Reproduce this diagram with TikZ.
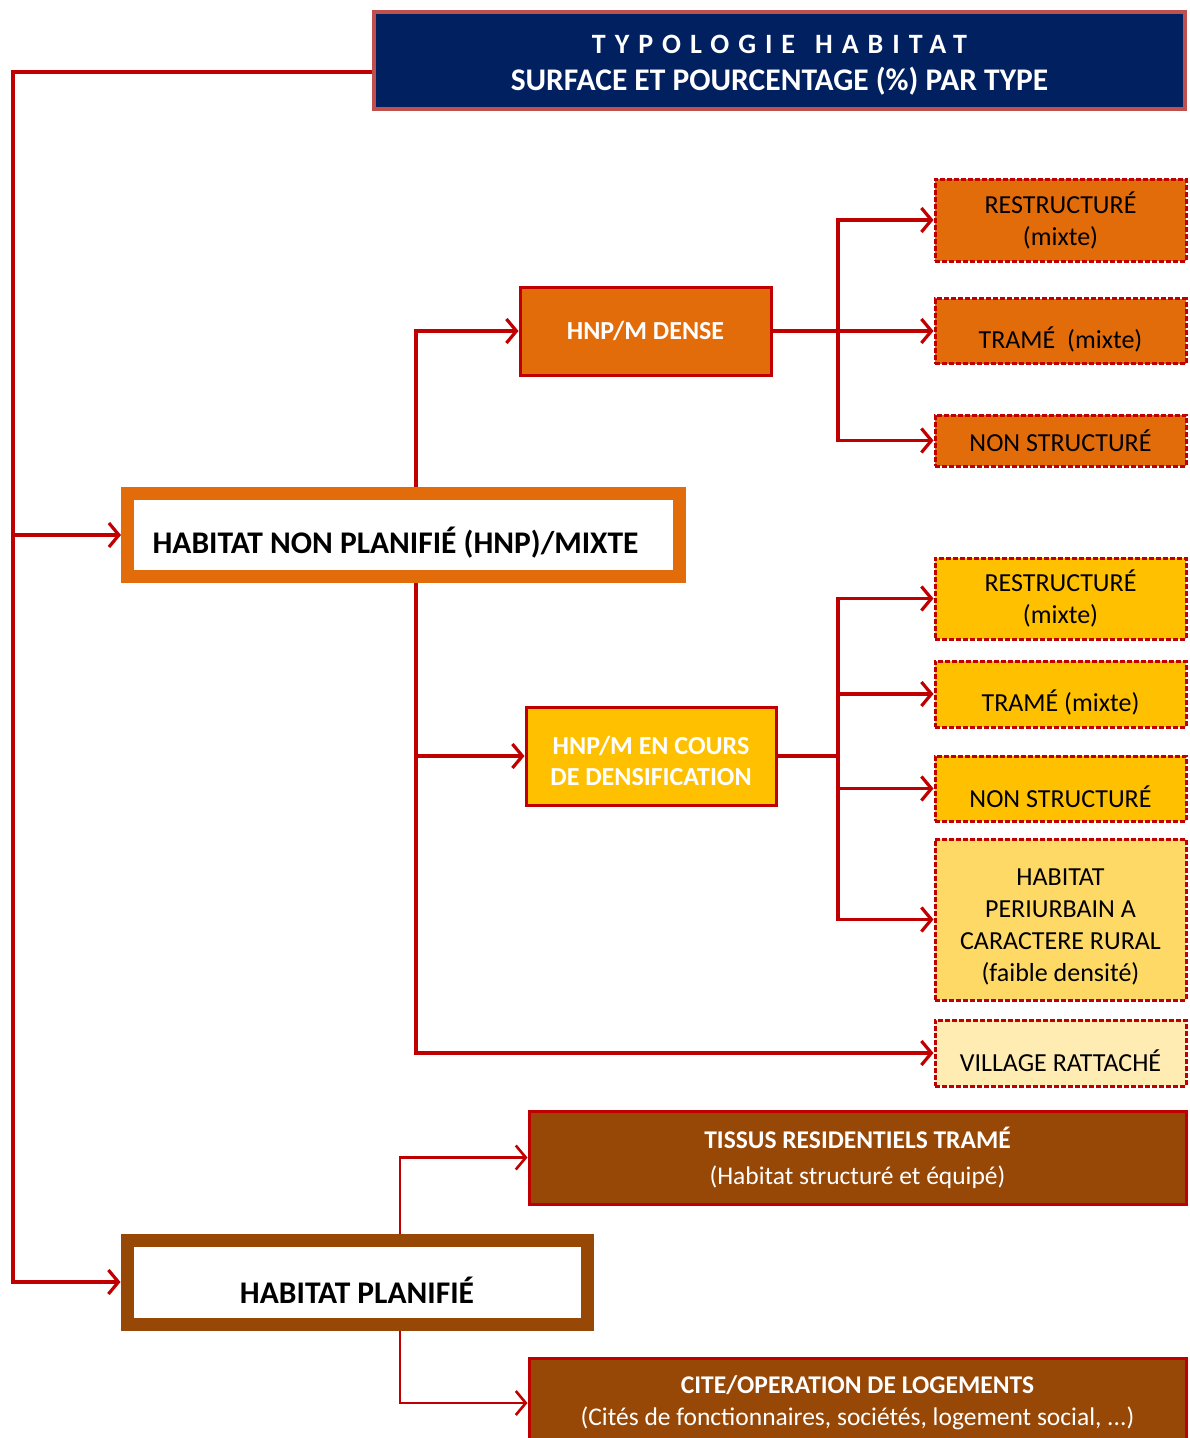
\documentclass[tikz,border=0pt]{standalone}
\usepackage{fontspec}
\setmainfont{Carlito}
\newfontfamily\spacedfont[LetterSpace=32]{Carlito}
\usepackage{tikz}
\usetikzlibrary{arrows.meta}
\definecolor{navy}{HTML}{002060}
\definecolor{titleborder}{HTML}{C0504D}
\definecolor{linkred}{HTML}{C00000}
\definecolor{hnporange}{HTML}{E36C0A}
\definecolor{hnpgold}{HTML}{FFC000}
\definecolor{periyellow}{HTML}{FFD966}
\definecolor{villagecream}{HTML}{FFECB3}
\definecolor{planbrown}{HTML}{974706}
\newcommand{\lowered}[1]{\raisebox{-8pt}[\height][\depth]{#1}}
\newcommand{\stacked}[2][-8pt]{\raisebox{#1}[\height][\depth]{\begin{tabular}{@{}c@{}}#2\end{tabular}}}
\tikzstyle{arrow}=[draw=linkred, line width=3.2pt, -{Straight Barb[length=10pt, width=24pt]}]
\tikzstyle{titlebox}=[draw=titleborder, fill=navy, line width=4pt, text=white, align=center, inner sep=0pt, font=\bfseries\fontsize{31.5}{37}\selectfont]
\tikzstyle{mainbox}=[fill=white, line width=13pt, align=center, inner sep=0pt, font=\bfseries\fontsize{31.5}{37}\selectfont]
\tikzstyle{subbox}=[draw=linkred, line width=3pt, text=white, align=center, inner sep=0pt, font=\bfseries\fontsize{26}{31}\selectfont]
\tikzstyle{leafbox}=[draw=linkred, line width=3pt, dash pattern=on 5pt off 2pt, align=center, inner sep=0pt, minimum width=251pt, font=\fontsize{26}{32}\selectfont]
\tikzstyle{planbox}=[draw=linkred, fill=planbrown, line width=3pt, text=white, align=center, inner sep=0pt, minimum width=657pt, font=\fontsize{25.5}{36}\selectfont]

\begin{document}
\begin{tikzpicture}[x=1pt, y=-1pt]
		   \useasboundingbox (0, 0) rectangle (1189, 1438);
		   \node (title) at (779.5, 60.5)[titlebox, minimum width=811pt, minimum height=97pt] {\stacked[-4pt]{%
			   {\spacedfont\fontsize{28}{37}\selectfont TYPOLOGIE\hspace{20pt}HABITAT}\\
			   SURFACE ET POURCENTAGE (\%) PAR TYPE}};
		   \node (hnp) at (403.5, 535)[mainbox, draw=hnporange, minimum width=552pt, minimum height=83pt] {\lowered{HABITAT NON PLANIFIÉ (HNP)/MIXTE}\hspace{16pt}};
		   \node (hp) at (357, 1282)[mainbox, draw=planbrown, minimum width=460pt, minimum height=84pt] {\lowered{HABITAT PLANIFIÉ}};
		   \node (dense) at (645.5, 331)[subbox, fill=hnporange, minimum width=251pt, minimum height=88pt] {HNP/M DENSE};
		   \node (cours) at (651, 756)[subbox, fill=hnpgold, minimum width=250pt, minimum height=98pt] {\stacked{HNP/M EN COURS\\DE DENSIFICATION}};
		   \node (restrA) at (1060.5, 220)[leafbox, fill=hnporange, minimum height=82pt] {RESTRUCTURÉ\\(mixte)};
		   \node (trameA) at (1060.5, 331)[leafbox, fill=hnporange, minimum height=65pt] {\lowered{TRAMÉ\ \ (mixte)}};
		   \node (nonA) at (1060.5, 440.5)[leafbox, fill=hnporange, minimum height=51pt] {NON STRUCTURÉ};
		   \node (restrB) at (1060.5, 598.5)[leafbox, fill=hnpgold, minimum height=81pt] {RESTRUCTURÉ\\(mixte)};
		   \node (trameB) at (1060.5, 694)[leafbox, fill=hnpgold, minimum height=66pt] {\lowered{TRAMÉ (mixte)}};
		   \node (nonB) at (1060.5, 788.5)[leafbox, fill=hnpgold, minimum height=65pt] {\lowered{NON STRUCTURÉ}};
		   \node (periB) at (1060.5, 919.5)[leafbox, fill=periyellow, minimum height=161pt] {\stacked{HABITAT\\PERIURBAIN A\\CARACTERE RURAL\\(faible densité)}};
		   \node (villageB) at (1060.5, 1053)[leafbox, fill=villagecream, minimum height=66pt] {\lowered{VILLAGE RATTACHÉ}};
		   \node (tissus) at (857.5, 1157.5)[planbox, minimum height=93pt] {{\bfseries TISSUS RESIDENTIELS TRAMÉ}\\(Habitat structuré et équipé)};
		   \node (cite) at (857.5, 1403)[planbox, minimum height=90pt] {{\bfseries CITE/OPERATION DE LOGEMENTS}\\[-4pt](Cités de fonctionnaires, sociétés, logement social, ...)};
		   \coordinate (spine) at (13, 72);
		   \coordinate (trunk) at (416, 0);
		   \coordinate (bus) at (838, 0);
		   \coordinate (ptrunk) at (400, 0);
		   \draw[arrow] (title.west |- spine) -- (spine) |- (hnp.west);
		   \draw[arrow] (spine) |- (hp.west);
		   \draw[arrow] (hnp.north -| trunk) |- (dense.west);
		   \draw[arrow] (hnp.south -| trunk) |- (cours.west);
		   \draw[arrow] (hnp.south -| trunk) |- (villageB.west);
		   \draw[arrow] (dense.east) -- (trameA.west);
		   \draw[arrow] (dense.east -| bus) |- (restrA.west);
		   \draw[arrow] (dense.east -| bus) |- (nonA.west);
		   \draw[arrow] (cours.east) -- (cours.east -| bus) |- (nonB.west);
		   \draw[arrow] (cours.east -| bus) |- (restrB.west);
		   \draw[arrow] (cours.east -| bus) |- (trameB.west);
		   \draw[arrow] (cours.east -| bus) |- (periB.west);
		   \draw[arrow, line width=2.6pt] (hp.north -| ptrunk) |- (tissus.west);
		   \draw[arrow, line width=2.6pt] (hp.south -| ptrunk) |- (cite.west);
	   \end{tikzpicture}
\end{document}
